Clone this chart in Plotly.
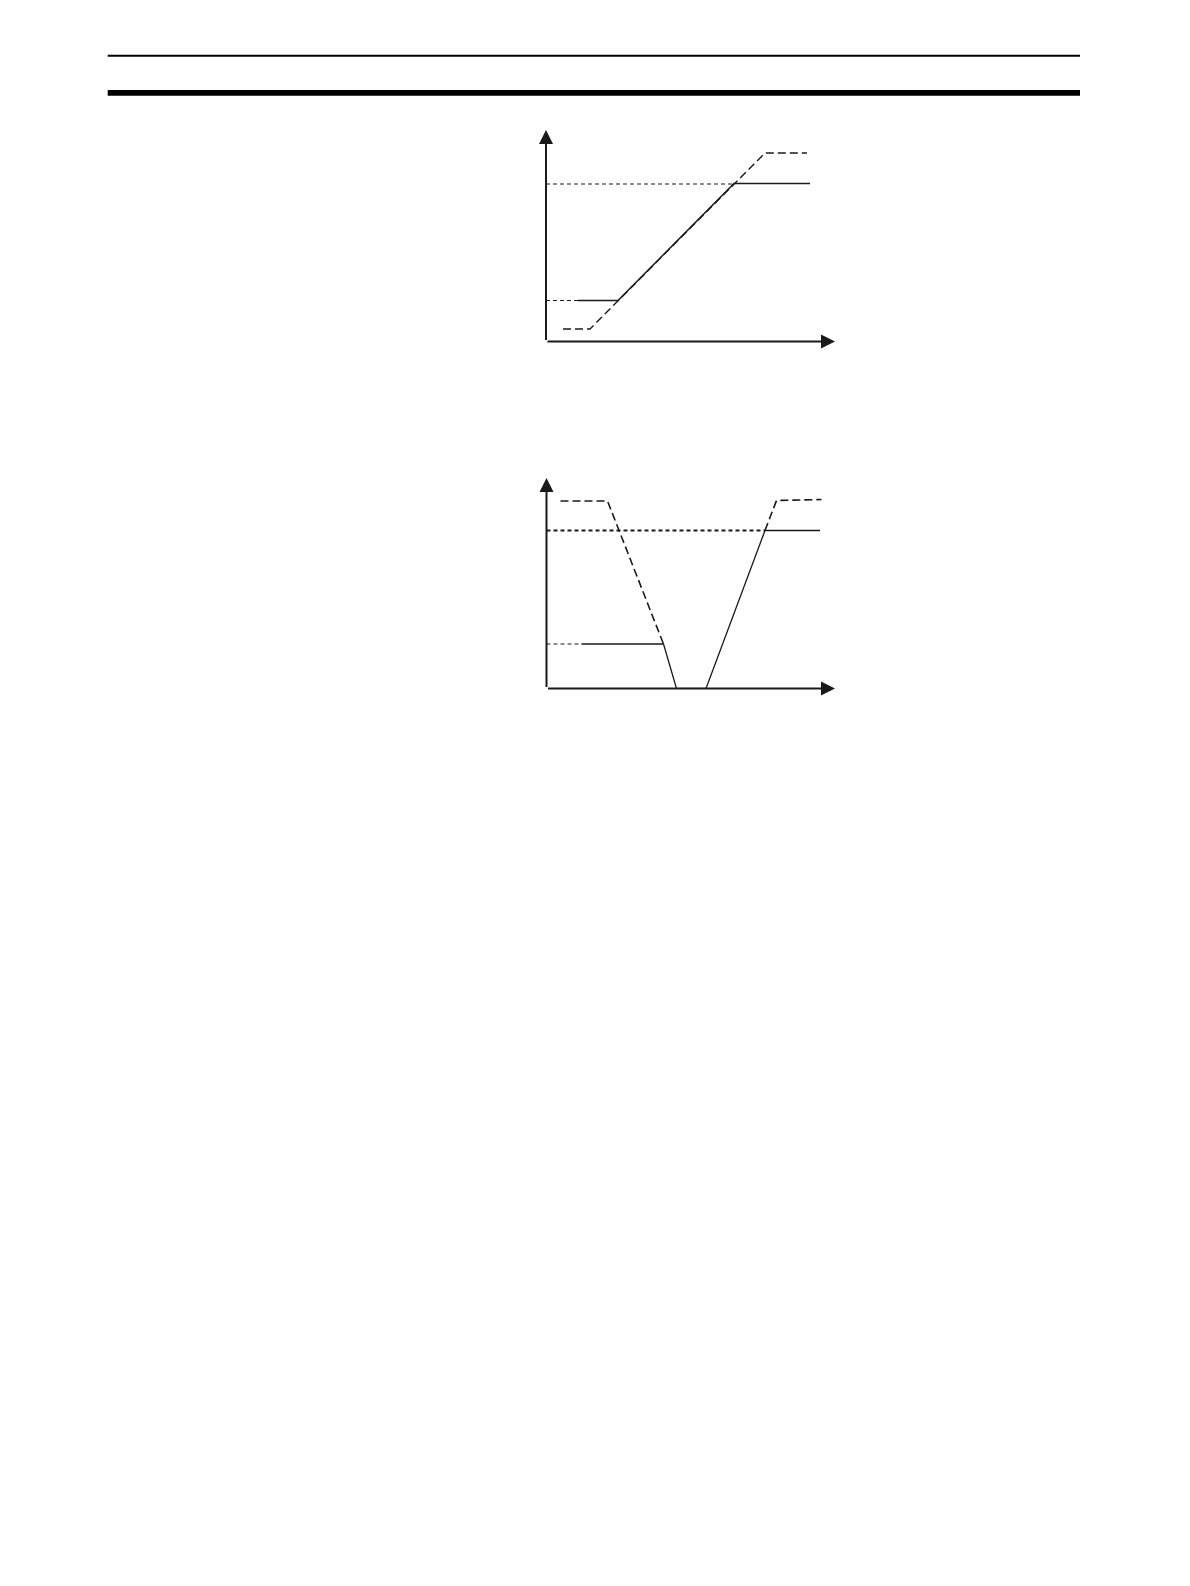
import plotly.graph_objects as go

# page geometry (browser body margin is 8px)
OFF = 8
W, H = 1190 - 2 * OFF, 1586 - 2 * OFF

# ---- chart 1 : ramp up (units: px from the axis origin, y upward)
c1_hi_x = [0, 188]
c1_hi_y = [157.5, 157.5]
c1_lo_x = [0, 32]
c1_lo_y = [41, 41]
c1_out_x = [32, 72, 188, 264]
c1_out_y = [41, 41, 158, 158]
c1_in_x = [17, 44, 219, 261]
c1_in_y = [12.5, 12.5, 188.5, 188.5]

# ---- chart 2 : V shape
c2_hi_x = [0, 218.5]
c2_hi_y = [158, 158]
c2_lo_x = [0, 35]
c2_lo_y = [44.5, 44.5]
c2_outl_x = [35, 117, 130]
c2_outl_y = [44.5, 44.5, 0]
c2_floor_x = [130, 159.5]
c2_floor_y = [0, 0]
c2_outr_x = [159.5, 218.5, 273.5]
c2_outr_y = [0, 158, 158]
c2_inl_x = [14, 61, 117]
c2_inl_y = [187.5, 187.5, 44.5]
c2_inr_x = [218.5, 230, 275]
c2_inr_y = [158, 188, 189]

INK = "#1a1a1a"
SHORT = "4px,3px"
LONG = "8px,4px"


def px_x(p):
    return (p - OFF) / W


def px_y(p):
    return 1 - (p - OFF) / H


# origin px, axis extents px
charts = [
    dict(ox=546, oy=341.5, xlen=289, ylen=211.5),
    dict(ox=546.5, oy=688.5, xlen=288.5, ylen=210.5),
]

fig = go.Figure()


def line(x, y, ax, dash="solid", width=1.3, color=INK):
    n = "" if ax == 1 else str(ax)
    fig.add_trace(go.Scatter(x=x, y=y, mode="lines", xaxis="x" + n, yaxis="y" + n,
                             line=dict(color=color, width=width, dash=dash),
                             hoverinfo="skip", showlegend=False))


line(c1_hi_x, c1_hi_y, 1, SHORT, 1.2)
line(c1_lo_x, c1_lo_y, 1, SHORT, 1.2)
line(c1_in_x, c1_in_y, 1, LONG, 1.4)
line(c1_out_x, c1_out_y, 1, width=1.5)

line(c2_hi_x, c2_hi_y, 2, SHORT, 2)
line(c2_lo_x, c2_lo_y, 2, SHORT, 1.2)
line(c2_outl_x, c2_outl_y, 2)
line(c2_floor_x, c2_floor_y, 2, color="#888888")
line(c2_outr_x, c2_outr_y, 2)
line(c2_inl_x, c2_inl_y, 2, LONG, 1.6)
line(c2_inr_x, c2_inr_y, 2, LONG, 1.6)

layout = dict(width=W, height=H, margin=dict(l=0, r=0, t=0, b=0),
              paper_bgcolor="white", plot_bgcolor="white", showlegend=False)
annots = []
for i, c in enumerate(charts, start=1):
    n = "" if i == 1 else str(i)
    layout["xaxis" + n] = dict(domain=[px_x(c["ox"]), px_x(c["ox"] + c["xlen"])],
                               range=[0, c["xlen"]], visible=False, fixedrange=True,
                               anchor="y" + n)
    layout["yaxis" + n] = dict(domain=[px_y(c["oy"]), px_y(c["oy"] - c["ylen"])],
                               range=[0, c["ylen"]], visible=False, fixedrange=True,
                               anchor="x" + n)
    for tip in [(c["xlen"], 0), (0, c["ylen"])]:
        annots.append(dict(x=tip[0], y=tip[1], ax=0, ay=0, xref="x" + n, yref="y" + n,
                           axref="x" + n, ayref="y" + n, text="", showarrow=True,
                           arrowhead=2, arrowsize=1.4, arrowwidth=2, arrowcolor=INK))

fig.update_layout(**layout, annotations=annots)

# page header rules
fig.add_shape(type="line", xref="paper", yref="paper",
              x0=px_x(107.7), x1=px_x(1080), y0=px_y(55.7), y1=px_y(55.7),
              line=dict(color="black", width=2))
fig.add_shape(type="rect", xref="paper", yref="paper",
              x0=px_x(107.7), x1=px_x(1080), y0=px_y(95.7), y1=px_y(90),
              fillcolor="black", line=dict(width=0))

fig.write_html("out.html", config={"displayModeBar": False})
